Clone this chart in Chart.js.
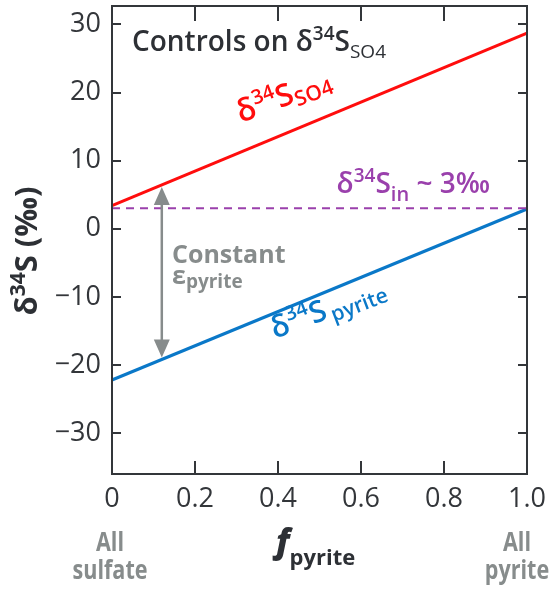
<!DOCTYPE html>
<html>
<head>
<meta charset="utf-8">
<script src="https://cdn.jsdelivr.net/npm/chart.js@4"></script>
<style>
  body { margin: 0; background: #fff; }
  #wrap { width: 552px; height: 590px; }
</style>
</head>
<body>
<div id="wrap"><canvas id="chart" width="552" height="590"></canvas></div>
<script>
// values
const fPyrite = [0, 1];
const so4Values = [3.4, 28.7];
const pyriteValues = [-22.2, 2.9];
const inputValues = [3, 3];
const xTicks = [0, 0.2, 0.4, 0.6, 0.8, 1.0];
const yTicks = [-30, -20, -10, 0, 10, 20, 30];
const arrowAt = 0.12;

const FONT = '"Open Sans", "Noto Sans", sans-serif';
const DARK = '#2d3035';
const GRAY = '#878c8c';
const RED = '#ff0d0d';
const BLUE = '#0a78c8';
const PURPLE = '#9a40ac';

function pts(ys) {
  return fPyrite.map((f, i) => ({x: f, y: ys[i]}));
}
function at(ys, f) {
  return ys[0] + (ys[1] - ys[0]) * f;
}

// parts: [text, size, weight, dy, style]
function rich(ctx, parts, x, y, align) {
  const font = p => (p[4] || '') + ' ' + p[2] + ' ' + p[1] + 'px ' + FONT;
  let w = 0;
  parts.forEach(p => {
    ctx.font = font(p);
    w += ctx.measureText(p[0]).width;
  });
  let cx = align === 'center' ? x - w / 2 : align === 'right' ? x - w : x;
  ctx.textAlign = 'left';
  ctx.textBaseline = 'alphabetic';
  parts.forEach(p => {
    ctx.font = font(p);
    ctx.fillText(p[0], cx, y + (p[3] || 0));
    cx += ctx.measureText(p[0]).width;
  });
}

// condensed bold label, squeezed horizontally
function narrow(ctx, text, x, y, size) {
  ctx.save();
  ctx.translate(x, y);
  ctx.scale(0.8, 1);
  ctx.font = '700 ' + size + 'px ' + FONT;
  ctx.textAlign = 'center';
  ctx.textBaseline = 'alphabetic';
  ctx.fillText(text, 0, 0);
  ctx.restore();
}

const annotations = {
  id: 'annotations',
  afterDraw(chart) {
    const {ctx, chartArea: a, scales: {x, y}} = chart;
    ctx.save();

    // frame and inward ticks
    ctx.strokeStyle = '#33363a';
    ctx.lineWidth = 2;
    ctx.strokeRect(a.left, a.top, a.right - a.left, a.bottom - a.top);
    ctx.beginPath();
    xTicks.forEach(v => {
      if (v <= 0 || v >= 1) return;
      const px = Math.round(x.getPixelForValue(v));
      ctx.moveTo(px, a.bottom); ctx.lineTo(px, a.bottom - 13);
      ctx.moveTo(px, a.top); ctx.lineTo(px, a.top + 15);
    });
    yTicks.forEach(v => {
      const py = Math.round(y.getPixelForValue(v));
      ctx.moveTo(a.left, py); ctx.lineTo(a.left + 9, py);
      ctx.moveTo(a.right, py); ctx.lineTo(a.right - 9, py);
    });
    ctx.stroke();

    // double arrow between the two lines
    const ax = x.getPixelForValue(arrowAt);
    const top = y.getPixelForValue(at(so4Values, arrowAt)) + 2;
    const bot = y.getPixelForValue(at(pyriteValues, arrowAt)) - 2;
    ctx.strokeStyle = GRAY; ctx.fillStyle = GRAY; ctx.lineWidth = 2.5;
    ctx.beginPath(); ctx.moveTo(ax, top + 14); ctx.lineTo(ax, bot - 14); ctx.stroke();
    ctx.beginPath();
    ctx.moveTo(ax, top); ctx.lineTo(ax - 8, top + 18); ctx.lineTo(ax + 8, top + 18); ctx.closePath();
    ctx.moveTo(ax, bot); ctx.lineTo(ax - 8, bot - 18); ctx.lineTo(ax + 8, bot - 18); ctx.closePath();
    ctx.fill();

    // title
    ctx.fillStyle = DARK;
    rich(ctx, [['Controls on δ', 28, 600], ['34', 19, 600, -11], ['S', 28, 600], ['SO4', 19, 400, 7]], 132, 51);

    // line labels, rotated along the lines
    const ang = Math.atan2(y.getPixelForValue(so4Values[1]) - y.getPixelForValue(so4Values[0]),
                           x.getPixelForValue(1) - x.getPixelForValue(0));
    ctx.fillStyle = RED;
    ctx.save(); ctx.translate(241, 123); ctx.rotate(ang + 0.03);
    rich(ctx, [['δ', 31, 600], ['34', 20, 600, -12], ['S', 31, 600], ['SO4', 21, 600, 5]], 0, 0);
    ctx.restore();

    ctx.fillStyle = BLUE;
    ctx.save(); ctx.translate(275, 339); ctx.rotate(ang + 0.03);
    rich(ctx, [['δ', 30, 600], ['34', 20, 600, -12], ['S', 30, 600], ['\u2009pyrite', 21, 600, 5]], 0, 0);
    ctx.restore();

    ctx.fillStyle = PURPLE;
    rich(ctx, [['δ', 28, 600], ['34', 19, 600, -11], ['S', 28, 600], ['in', 20, 600, 8], [' ~ 3‰', 28, 600]], 490, 193, 'right');

    ctx.fillStyle = GRAY;
    rich(ctx, [['Constant', 25, 700]], 172, 263);
    rich(ctx, [['ε', 25, 700], ['pyrite', 19, 700, 4]], 172, 284);

    // axis titles
    ctx.fillStyle = DARK;
    ctx.save(); ctx.translate(37, 251); ctx.rotate(-Math.PI / 2);
    rich(ctx, [['δ', 31, 700], ['34', 21, 700, -12], ['S (‰)', 31, 700]], 0, 0, 'center');
    ctx.restore();
    rich(ctx, [['f', 33, 800, 0, 'italic'], ['pyrite', 22, 700, 12]], 276, 553);

    ctx.fillStyle = GRAY;
    narrow(ctx, 'All', 110, 551, 27);
    narrow(ctx, 'sulfate', 110, 579, 27);
    narrow(ctx, 'All', 517, 551, 27);
    narrow(ctx, 'pyrite', 517, 579, 27);

    ctx.restore();
  }
};

new Chart(document.getElementById('chart'), {
  type: 'line',
  data: {
    datasets: [
      {data: pts(inputValues), borderColor: PURPLE, borderWidth: 2, borderDash: [8, 6]},
      {data: pts(so4Values), borderColor: RED, borderWidth: 3},
      {data: pts(pyriteValues), borderColor: BLUE, borderWidth: 3}
    ]
  },
  options: {
    responsive: false,
    animation: false,
    layout: {padding: {top: 6, right: 25, left: 0, bottom: 0}},
    elements: {point: {radius: 0}, line: {tension: 0}},
    plugins: {legend: {display: false}, tooltip: {enabled: false}},
    scales: {
      x: {
        type: 'linear', min: 0, max: 1,
        afterBuildTicks: s => { s.ticks = xTicks.map(v => ({value: v})); },
        afterFit: s => { s.height = 116; s.paddingLeft = 0; s.paddingRight = 0; },
        grid: {display: false, drawTicks: false},
        border: {display: false},
        ticks: {
          padding: 9, color: '#33363a', maxRotation: 0,
          font: {family: FONT, size: 27},
          callback: v => v === 0 ? '0' : v === 1 ? '1.0' : String(v)
        }
      },
      y: {
        min: -36, max: 32.7,
        afterBuildTicks: s => { s.ticks = yTicks.map(v => ({value: v})); },
        afterFit: s => { s.width = 112; s.paddingTop = 0; s.paddingBottom = 0; },
        grid: {display: false, drawTicks: false},
        border: {display: false},
        ticks: {
          padding: 11, color: '#33363a',
          font: {family: FONT, size: 27},
          callback: v => String(v).replace('-', '\u2212')
        }
      }
    }
  },
  plugins: [annotations]
});
</script>
</body>
</html>
